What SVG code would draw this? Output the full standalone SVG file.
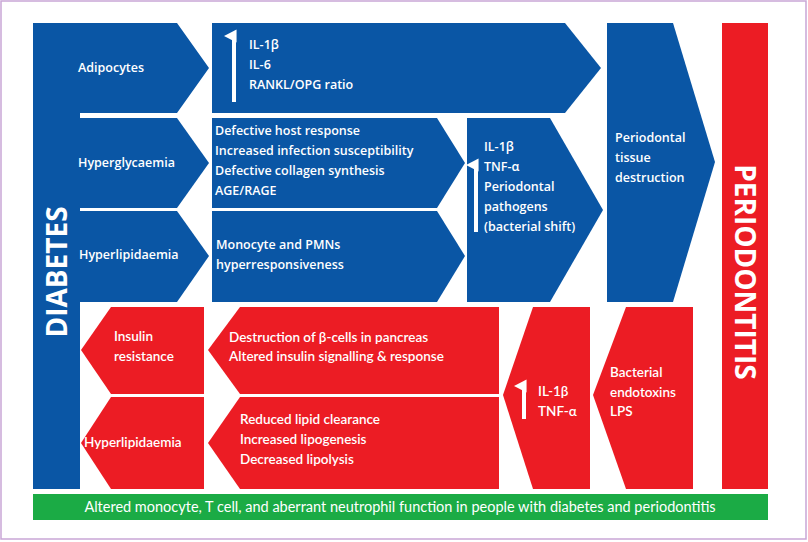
<svg xmlns="http://www.w3.org/2000/svg" width="808" height="542" viewBox="0 0 808 542">
<defs>
<style>
.b{fill:#0a56a5}.r{fill:#ec1c24}
.bt{font-family:"Open Sans","DejaVu Sans",sans-serif;font-weight:600;font-size:12.5px;fill:#fff}
.rt{font-family:Lato,"Open Sans",sans-serif;font-weight:600;font-size:13.5px;fill:#fff}
.big{font-family:"Open Sans","Liberation Sans",sans-serif;font-weight:700;font-size:28px;fill:#fff}
.ar{stroke:#fff;stroke-width:4;fill:none}
</style>
<marker id="ah" viewBox="0 0 10 10" refX="5" refY="8" markerWidth="4" markerHeight="3.2" orient="auto"><path d="M0,10 L5,0 L10,10 Z" fill="#fff"/></marker>
</defs>
<rect x="1" y="1" width="805" height="538" fill="#fff" stroke="#c9a6d6" stroke-width="1.5"/>
<g id="diabetes">
<path class="b" d="M33,23 H177 L209,68 L177,113 H80 V489 H33 Z"/>
<text class="big" transform="translate(67,272) rotate(-90)" text-anchor="middle">DIABETES</text>
<text class="bt" x="78" y="72">Adipocytes</text>
</g>
<g id="hyperglycaemia">
<path class="b" d="M80,118 H177 L209,163 L177,208 H80 Z"/>
<text class="bt" x="78" y="167">Hyperglycaemia</text>
</g>
<g id="hyperlipidaemia-b">
<path class="b" d="M80,211 H177 L209,256 L177,302 H80 Z"/>
<text class="bt" x="79" y="259">Hyperlipidaemia</text>
</g>
<g id="il1-top">
<path class="b" d="M212,23 H565 L601,68 L565,113 H212 Z"/>
<line class="ar" x1="234" y1="102" x2="234" y2="36" marker-end="url(#ah)"/>
<text class="bt" x="249" y="49">IL-1β</text>
<text class="bt" x="249" y="69">IL-6</text>
<text class="bt" x="249" y="89">RANKL/OPG ratio</text>
</g>
<g id="defective">
<path class="b" d="M212,118 H437 L465,163 L437,208 H212 Z"/>
<text class="bt" x="215" y="135">Defective host response</text>
<text class="bt" x="215" y="155">Increased infection susceptibility</text>
<text class="bt" x="215" y="175">Defective collagen synthesis</text>
<text class="bt" x="215" y="195">AGE/RAGE</text>
</g>
<g id="monocyte">
<path class="b" d="M212,211 H437 L465,256 L437,302 H212 Z"/>
<text class="bt" x="216" y="249">Monocyte and PMNs</text>
<text class="bt" x="216" y="269">hyperresponsiveness</text>
</g>
<g id="il1-mid">
<path class="b" d="M467,118 H550 L603,210 L550,302 H467 Z"/>
<line class="ar" x1="476" y1="232" x2="476" y2="165" marker-end="url(#ah)"/>
<text class="bt" x="484" y="151">IL-1β</text>
<text class="bt" x="484" y="171">TNF-α</text>
<text class="bt" x="484" y="191">Periodontal</text>
<text class="bt" x="484" y="211">pathogens</text>
<text class="bt" x="484" y="231">(bacterial shift)</text>
</g>
<g id="tissue">
<path class="b" d="M607,23 H673 L715,162 L673,302 H607 Z"/>
<text class="bt" x="615" y="142">Periodontal</text>
<text class="bt" x="615" y="162">tissue</text>
<text class="bt" x="615" y="182">destruction</text>
</g>
<g id="periodontitis">
<rect class="r" x="722" y="23" width="46" height="466"/>
<text class="big" transform="translate(735,272) rotate(90)" text-anchor="middle">PERIODONTITIS</text>
</g>
<g id="insulin">
<path class="r" d="M111,307 H204 V394 H111 L81,350 Z"/>
<text class="rt" x="114" y="341">Insulin</text>
<text class="rt" x="114" y="361">resistance</text>
</g>
<g id="hyperlipidaemia-r">
<path class="r" d="M111,397 H204 V489 H111 L81,443 Z"/>
<text class="rt" x="84" y="447">Hyperlipidaemia</text>
</g>
<g id="destruction">
<path class="r" d="M240,307 H499 V394 H240 L208,350 Z"/>
<text class="rt" x="229" y="342">Destruction of β-cells in pancreas</text>
<text class="rt" x="229" y="361">Altered insulin signalling &amp; response</text>
</g>
<g id="lipid">
<path class="r" d="M240,397 H499 V489 H240 L208,443 Z"/>
<text class="rt" x="240" y="424">Reduced lipid clearance</text>
<text class="rt" x="240" y="444">Increased lipogenesis</text>
<text class="rt" x="240" y="464">Decreased lipolysis</text>
</g>
<g id="il1-red">
<path class="r" d="M533,307 H590 V489 H533 L503,395 Z"/>
<line class="ar" x1="524" y1="419" x2="524" y2="386" marker-end="url(#ah)"/>
<text class="rt" x="538" y="396">IL-1β</text>
<text class="rt" x="538" y="416">TNF-α</text>
</g>
<g id="bacterial">
<path class="r" d="M626,307 H693 V489 H626 L593,395 Z"/>
<text class="rt" x="610" y="377">Bacterial</text>
<text class="rt" x="610" y="397">endotoxins</text>
<text class="rt" x="610" y="416">LPS</text>
</g>
<g id="footer">
<rect x="33" y="494" width="735" height="26" fill="#1bab45"/>
<text x="400" y="512" text-anchor="middle" font-family="Lato,'Open Sans',sans-serif" font-size="14.5" fill="#fff">Altered monocyte, T cell, and aberrant neutrophil function in people with diabetes and periodontitis</text>
</g>
<g id="connectors"/>
</svg>
